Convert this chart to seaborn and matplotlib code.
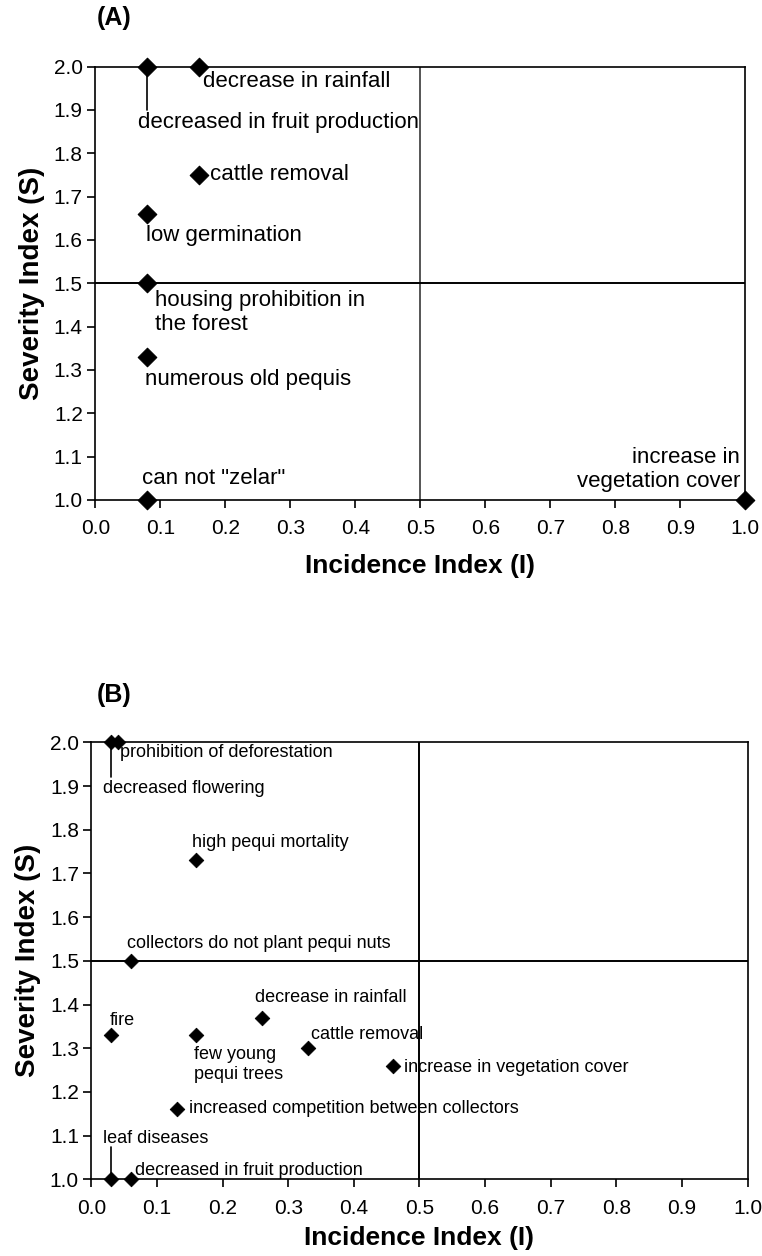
import pandas as pd
import matplotlib.pyplot as plt
import seaborn as sns

# Panel A data
a_labels = ["decreased in fruit production", "decrease in rainfall", "cattle removal",
            "low germination", "housing prohibition in\nthe forest", "numerous old pequis",
            "can not \"zelar\"", "increase in\nvegetation cover"]
a_incidence = [0.08, 0.16, 0.16, 0.08, 0.08, 0.08, 0.08, 1.0]
a_severity = [2.0, 2.0, 1.75, 1.66, 1.5, 1.33, 1.0, 1.0]

# Panel B data
b_labels = ["decreased flowering", "prohibition of deforestation", "high pequi mortality",
            "collectors do not plant pequi nuts", "fire", "few young\npequi trees",
            "decrease in rainfall", "cattle removal", "increase in vegetation cover",
            "increased competition between collectors", "leaf diseases",
            "decreased in fruit production"]
b_incidence = [0.03, 0.04, 0.16, 0.06, 0.03, 0.16, 0.26, 0.33, 0.46, 0.13, 0.03, 0.06]
b_severity = [2.0, 2.0, 1.73, 1.5, 1.33, 1.33, 1.37, 1.30, 1.26, 1.16, 1.0, 1.0]

# label anchor positions (layout only)
a_text_pos = [(0.066, 1.87, "left"), (0.166, 1.965, "left"), (0.177, 1.75, "left"),
              (0.078, 1.61, "left"), (0.092, 1.432, "left"), (0.077, 1.277, "left"),
              (0.072, 1.049, "left"), (0.992, 1.07, "right")]
b_text_pos = [(0.018, 1.895), (0.044, 1.977), (0.154, 1.77), (0.054, 1.54),
              (0.028, 1.364), (0.157, 1.263), (0.25, 1.416), (0.335, 1.332),
              (0.476, 1.256), (0.149, 1.163), (0.017, 1.094), (0.067, 1.021)]

df_a = pd.DataFrame({"I": a_incidence, "S": a_severity, "label": a_labels})
df_b = pd.DataFrame({"I": b_incidence, "S": b_severity, "label": b_labels})

sns.set_theme(style="ticks")
plt.rcParams['font.family'] = ['Liberation Sans', 'DejaVu Sans']
plt.rcParams['text.color'] = 'black'
plt.rcParams['axes.labelcolor'] = 'black'
plt.rcParams['xtick.color'] = 'black'
plt.rcParams['ytick.color'] = 'black'

fig = plt.figure(figsize=(7.62, 12.56), dpi=100)
ax_a = fig.add_axes([0.125, 0.602, 0.853, 0.345])
ax_b = fig.add_axes([0.120, 0.061, 0.861, 0.348])


def setup_axes(ax, vcolor, xpad):
    ax.set_xlim(0, 1)
    ax.set_ylim(1, 2)
    ax.set_xticks([i / 10 for i in range(11)])
    ax.set_yticks([1 + i / 10 for i in range(11)])
    ax.set_xticklabels([f"{i / 10:.1f}" for i in range(11)])
    ax.set_yticklabels([f"{1 + i / 10:.1f}" for i in range(11)])
    ax.tick_params(direction="out", length=6, width=1.2, labelsize=15, pad=3)
    ax.tick_params(axis="x", pad=8)
    for sp in ax.spines.values():
        sp.set_visible(True)
        sp.set_color("black")
        sp.set_linewidth(1.2)
    ax.axvline(0.5, color=vcolor, lw=1.4, zorder=1)
    ax.axhline(1.5, color="black", lw=1.4, zorder=1)
    ax.set_xlabel("Incidence Index (I)", fontsize=19, fontweight="bold", labelpad=xpad)
    ax.set_ylabel("Severity Index (S)", fontsize=20, fontweight="bold", labelpad=6)


# Panel A
setup_axes(ax_a, "#555555", 11)
sns.scatterplot(data=df_a, x="I", y="S", marker="D", color="black", s=90,
                edgecolor="black", ax=ax_a, clip_on=False, zorder=3)
ax_a.plot([0.08, 0.08], [2.0, 1.90], color="black", lw=1.2)
for (x, y, ha), lab in zip(a_text_pos, a_labels):
    ax_a.text(x, y, lab, fontsize=16, ha=ha, va="center", linespacing=1.2)
fig.text(0.127, 0.986, "(A)", fontsize=18, fontweight="bold", ha="left", va="center")

# Panel B
setup_axes(ax_b, "black", 6)
sns.scatterplot(data=df_b, x="I", y="S", marker="D", color="black", s=55,
                edgecolor="black", ax=ax_b, clip_on=False, zorder=3)
ax_b.plot([0.03, 0.03], [2.0, 1.92], color="black", lw=1.2)
ax_b.plot([0.03, 0.03], [1.0, 1.073], color="black", lw=1.2)
for (x, y), lab in zip(b_text_pos, b_labels):
    ax_b.text(x, y, lab, fontsize=13, ha="left", va="center", linespacing=1.25)
fig.text(0.127, 0.447, "(B)", fontsize=18, fontweight="bold", ha="left", va="center")

fig.savefig("out.png", dpi=100)
